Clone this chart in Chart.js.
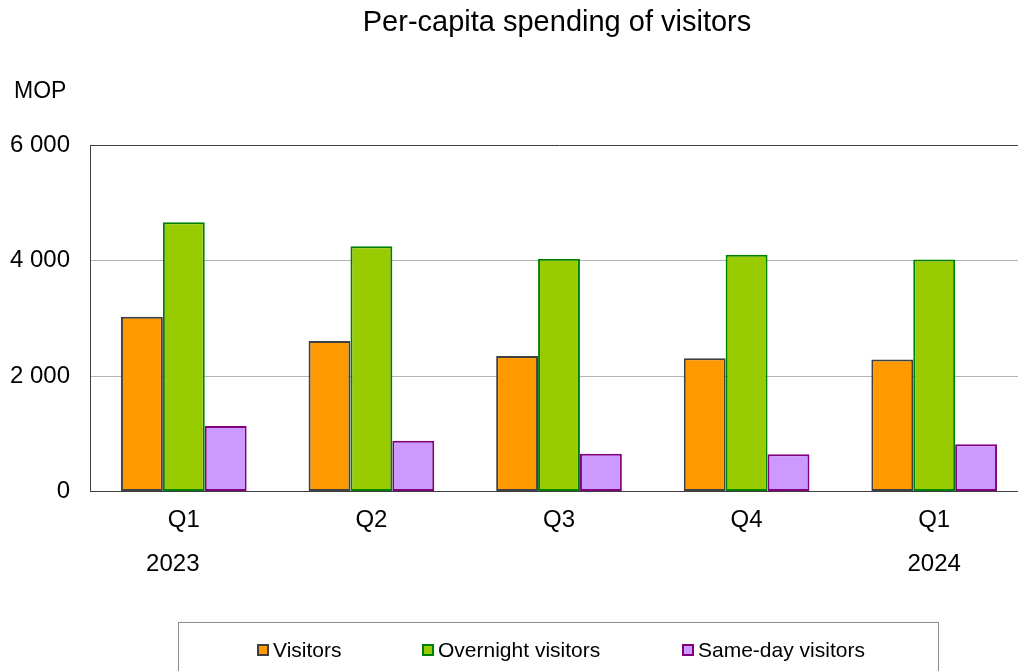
<!DOCTYPE html>
<html>
<head>
<meta charset="utf-8">
<script src="https://cdn.jsdelivr.net/npm/chart.js@4/dist/chart.umd.min.js"></script>
<style>
  html, body { margin: 0; padding: 0; background: #ffffff; overflow: hidden; }
  #wrap { width: 1018px; height: 671px; overflow: hidden; position: relative; }
  canvas { display: block; }
</style>
</head>
<body>
<div id="wrap"><canvas id="chart" width="1028" height="671"></canvas></div>
<script>
// Quarters on the category axis, with the year shown under the first and last quarter
const quarters = ['Q1', 'Q2', 'Q3', 'Q4', 'Q1'];
const years = ['2023', '', '', '', '2024'];

// Per-capita spending (MOP)
const visitors = [3030, 2610, 2350, 2310, 2290];
const overnightVisitors = [4670, 4255, 4035, 4105, 4025];
const sameDayVisitors = [1135, 880, 655, 645, 820];

// Value axis
const yTicks = [0, 2000, 4000, 6000];

const FONT = '"Liberation Sans", Arial, sans-serif';
const AXIS_DARK = '#404040';

function fmtThousands(v) {
  return String(v).replace(/\B(?=(\d{3})+(?!\d))/g, ' ');
}

const decorations = {
  id: 'decorations',
  afterDraw(chart) {
    const ctx = chart.ctx;
    const xs = chart.scales.x;
    ctx.save();
    ctx.fillStyle = '#000000';

    // title
    ctx.font = '29px ' + FONT;
    ctx.textAlign = 'center';
    ctx.textBaseline = 'middle';
    ctx.fillText('Per-capita spending of visitors', 557, 23);

    // unit
    ctx.font = '23px ' + FONT;
    ctx.textAlign = 'left';
    ctx.fillText('MOP', 14, 92);

    // years below the quarter labels
    ctx.font = '24px ' + FONT;
    ctx.textAlign = 'center';
    years.forEach((y, i) => {
      if (!y) return;
      const cx = xs.getPixelForValue(i) - (i === 0 ? 11 : 0);
      ctx.fillText(y, cx, 564);
    });

    // legend frame
    ctx.strokeStyle = '#8c8c8c';
    ctx.lineWidth = 1;
    ctx.strokeRect(178.5, 622.5, 760, 70);

    // legend entries
    const itemX = [257, 422, 682];
    ctx.font = '21px ' + FONT;
    ctx.textAlign = 'left';
    chart.data.datasets.forEach((ds, i) => {
      const x = itemX[i];
      ctx.fillStyle = ds.backgroundColor;
      ctx.fillRect(x, 644, 12, 12);
      ctx.strokeStyle = ds.borderColor;
      ctx.lineWidth = 2;
      ctx.strokeRect(x + 1, 645, 10, 10);
      ctx.fillStyle = '#000000';
      ctx.fillText(ds.label, x + 16, 651);
    });
    ctx.restore();
  }
};

new Chart(document.getElementById('chart'), {
  type: 'bar',
  data: {
    labels: quarters,
    datasets: [
      { label: 'Visitors', data: visitors, backgroundColor: '#FF9900', borderColor: '#404040', borderWidth: 2, borderSkipped: false },
      { label: 'Overnight visitors', data: overnightVisitors, backgroundColor: '#99CC00', borderColor: '#008000', borderWidth: 2, borderSkipped: false },
      { label: 'Same-day visitors', data: sameDayVisitors, backgroundColor: '#CC99FF', borderColor: '#800080', borderWidth: 2, borderSkipped: false }
    ]
  },
  options: {
    responsive: false,
    devicePixelRatio: 1,
    animation: false,
    layout: { padding: { top: 145.5, left: 0, right: 0, bottom: 0 } },
    datasets: { bar: { barPercentage: 1, categoryPercentage: 0.67 } },
    plugins: {
      legend: { display: false },
      title: { display: false },
      tooltip: { enabled: false }
    },
    scales: {
      x: {
        grid: { display: false, drawTicks: false },
        border: { display: true, color: AXIS_DARK, width: 1 },
        ticks: { color: '#000000', font: { family: FONT, size: 24 }, padding: 14, maxRotation: 0 },
        afterFit(s) { s.height = 671 - 491.5; }
      },
      y: {
        min: 0,
        max: 6000,
        afterBuildTicks(s) { s.ticks = yTicks.map(v => ({ value: v })); },
        grid: {
          drawTicks: false,
          color: c => (c.tick && (c.tick.value === 0 || c.tick.value === 6000)) ? AXIS_DARK : '#b4b4b4',
          lineWidth: 1
        },
        border: { display: true, color: AXIS_DARK, width: 1 },
        ticks: {
          color: '#000000',
          font: { family: FONT, size: 24 },
          padding: 20,
          callback: v => fmtThousands(v)
        },
        afterFit(s) { s.width = 90; }
      }
    }
  },
  plugins: [decorations]
});
</script>
</body>
</html>
